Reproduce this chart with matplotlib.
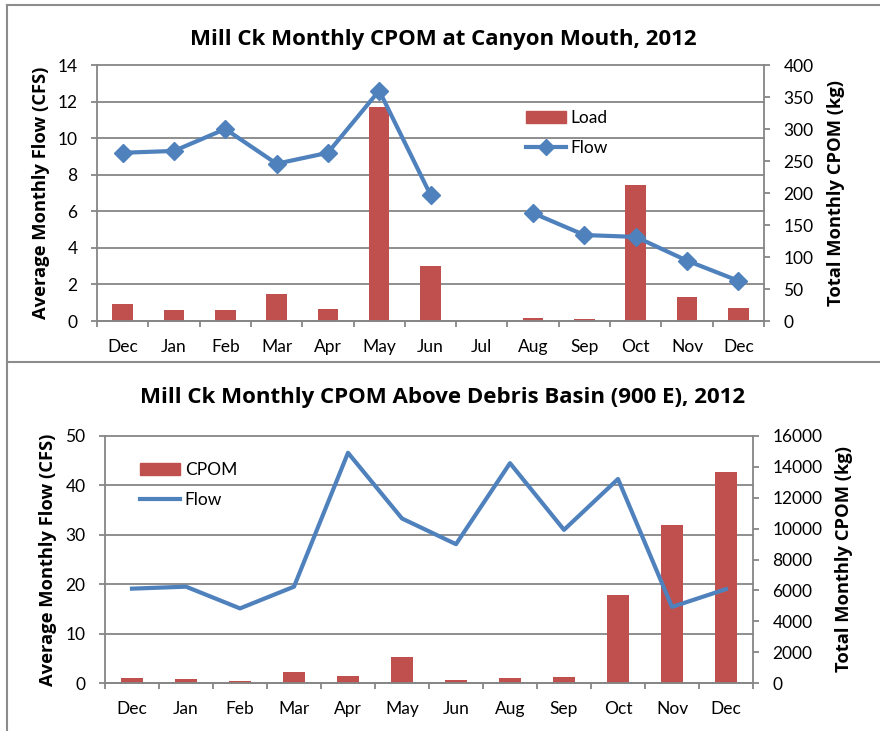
import numpy as np
import matplotlib
matplotlib.use("Agg")
import matplotlib.pyplot as plt
from matplotlib.transforms import blended_transform_factory
from matplotlib.lines import Line2D

plt.rcParams['font.family'] = ['Lato', 'DejaVu Sans']
BOLD_FONT = ['Open Sans', 'DejaVu Sans']

# ---- data: top chart (canyon mouth) -------------------------------------
top_months = ["Dec", "Jan", "Feb", "Mar", "Apr", "May", "Jun", "Jul",
              "Aug", "Sep", "Oct", "Nov", "Dec"]
top_flow = [9.2, 9.3, 10.5, 8.6, 9.2, 12.6, 6.9, np.nan,
            5.9, 4.7, 4.6, 3.3, 2.2]
top_load = [26, 17, 17, 42, 18, 334, 86, 0, 4, 3, 212, 38, 20]

# ---- data: bottom chart (above debris basin) ----------------------------
bot_months = ["Dec", "Jan", "Feb", "Mar", "Apr", "May", "Jun",
              "Aug", "Sep", "Oct", "Nov", "Dec"]
bot_flow = [19.1, 19.5, 15.1, 19.5, 46.6, 33.3, 28.1,
            44.5, 31.0, 41.3, 15.4, 19.0]
bot_cpom = [300, 260, 130, 710, 430, 1700, 200, 300, 370, 5720, 10250, 13680]

BAR = "#C0504D"
LINE = "#4F81BD"
GRID = "#868686"
W, H = 880, 731


def px_axes(fig, left, top, right, bottom):
    return fig.add_axes([left / W, 1 - bottom / H, (right - left) / W, (bottom - top) / H])


def draw_panel(fig, box, months, flow, load, fmax, fstep, lmax, lstep,
               title, title_y, bar_label, markers, leg_xy, lab_x):
    left, top, right, bottom = box
    ax = px_axes(fig, left, top, right, bottom)
    axr = ax.twinx()
    ax.set_zorder(axr.get_zorder() + 1)
    ax.patch.set_visible(False)

    x = np.arange(len(months))
    # gridlines follow the left (flow) ticks, drawn under the bars
    tr = blended_transform_factory(axr.transAxes, ax.transData)
    for v in np.arange(0, fmax + fstep / 2, fstep):
        axr.plot([0, 1], [v, v], color=GRID, lw=1.3, transform=tr, zorder=0,
                 clip_on=False)
    axr.bar(x, load, width=0.4, color=BAR, zorder=2)
    if markers:
        ax.plot(x, flow, color=LINE, lw=3, marker="D", ms=9.5, zorder=3)
    else:
        ax.plot(x, flow, color=LINE, lw=3, zorder=3)

    ax.set_xlim(-0.5, len(months) - 0.5)
    ax.set_ylim(0, fmax)
    axr.set_ylim(0, lmax)
    ax.set_yticks(np.arange(0, fmax + fstep / 2, fstep))
    axr.set_yticks(np.arange(0, lmax + lstep / 2, lstep))
    ax.set_xticks(x)
    ax.set_xticklabels(months)
    ax.set_xticks(np.arange(-0.5, len(months)), minor=True)

    for a in (ax, axr):
        for s in a.spines.values():
            s.set_visible(False)
    ax.spines["left"].set_visible(True)
    ax.spines["bottom"].set_visible(True)
    axr.spines["right"].set_visible(True)
    for s in (ax.spines["left"], ax.spines["bottom"], axr.spines["right"]):
        s.set_color(GRID)
        s.set_linewidth(1.3)

    ax.tick_params(axis="x", which="major", length=0, pad=13, labelsize=12.5)
    ax.tick_params(axis="x", which="minor", length=4, width=1.3, color=GRID,
                   direction="out")
    ax.tick_params(axis="y", length=4, width=1.3, color=GRID, pad=10, labelsize=12.5)
    axr.tick_params(axis="y", length=4, width=1.3, color=GRID, pad=10, labelsize=12.5)

    ax.set_ylabel("Average Monthly Flow (CFS)", fontsize=13.2, fontweight="bold",
                  family=BOLD_FONT)
    axr.set_ylabel("Total Monthly CPOM (kg)", fontsize=13.2, fontweight="bold",
                   family=BOLD_FONT)
    ax.yaxis.set_label_coords((lab_x[0] - left) / (right - left), 0.5)
    axr.yaxis.set_label_coords((lab_x[1] - left) / (right - left), 0.5)

    fig.text(443 / W, 1 - title_y / H, title, ha="center", va="center",
             fontsize=16, fontweight="bold", family=BOLD_FONT)

    handles = [plt.Rectangle((0, 0), 1, 1, color=BAR),
               Line2D([], [], color=LINE, lw=3, marker="D" if markers else None, ms=8)]
    ax.legend(handles, [bar_label, "Flow"], loc="upper left", frameon=False,
              bbox_to_anchor=(leg_xy[0] / W, 1 - leg_xy[1] / H),
              bbox_transform=fig.transFigure, fontsize=12.5, handlelength=2.3,
              handletextpad=0.3, labelspacing=0.85, borderpad=0)
    return ax, axr


fig = plt.figure(figsize=(W / 100, H / 100), dpi=100)

draw_panel(fig, (97, 65, 764, 321), top_months, top_flow, top_load,
           14, 2, 400, 50, "Mill Ck Monthly CPOM at Canyon Mouth, 2012", 39,
           "Load", True, (517, 101), (50, 827))
draw_panel(fig, (105, 436, 753, 683), bot_months, bot_flow, bot_cpom,
           50, 10, 16000, 2000, "Mill Ck Monthly CPOM Above Debris Basin (900 E), 2012",
           397, "CPOM", False, (131, 453), (57, 835))

# chart-area borders
for y in (5, 362):
    fig.add_artist(Line2D([7 / W, 1], [1 - y / H, 1 - y / H], color="#8C8C8C", lw=1.5,
                          transform=fig.transFigure))
fig.add_artist(Line2D([7 / W, 7 / W], [1 - 5 / H, 0], color="#8C8C8C", lw=1.5,
                      transform=fig.transFigure))

fig.savefig("out.png", dpi=100)
